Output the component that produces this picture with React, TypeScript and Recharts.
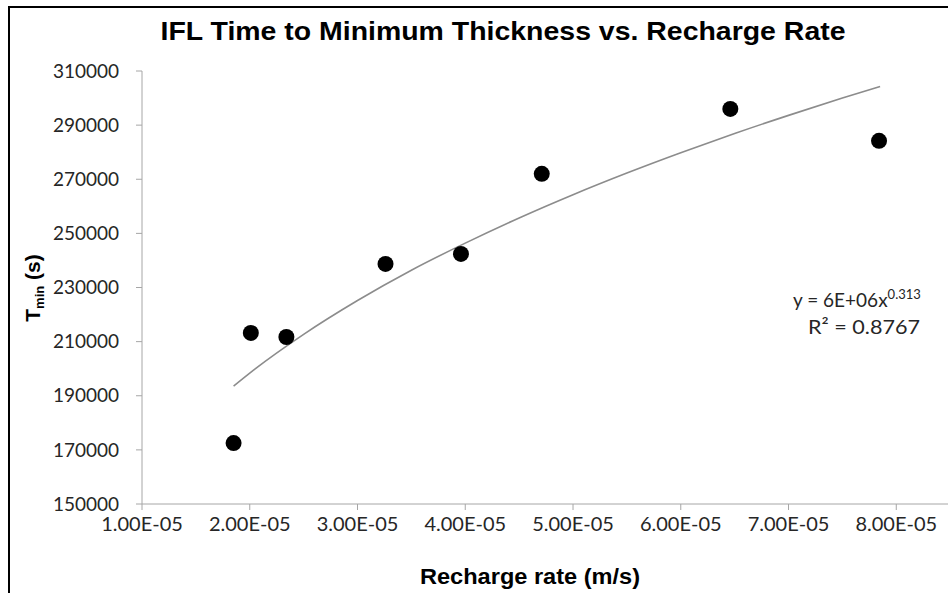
import { ComposedChart, Scatter, Line, XAxis, YAxis } from 'recharts';

// measured points (recharge rate m/s, time to min thickness s)
const rechargeRate = [1.85e-5, 2.01e-5, 2.34e-5, 3.26e-5, 3.96e-5, 4.71e-5, 6.46e-5, 7.84e-5];
const tMin = [172500, 213200, 211700, 238700, 242400, 272000, 296000, 284200];

// power trendline
const trendX = [1.85e-5, 2e-5, 2.5e-5, 3e-5, 3.5e-5, 4e-5, 4.5e-5, 5e-5, 5.5e-5, 6e-5, 6.5e-5, 7e-5, 7.5e-5, 7.85e-5];
const trendY = [193600, 198400, 212700, 225200, 236400, 246400, 255700, 264300, 272300, 279800, 286900, 293600, 300000, 304300];

const xTicks = [1e-5, 2e-5, 3e-5, 4e-5, 5e-5, 6e-5, 7e-5, 8e-5];
const yTicks = [150000, 170000, 190000, 210000, 230000, 250000, 270000, 290000, 310000];

const points = rechargeRate.map((x, i) => ({ x, y: tMin[i] }));
const trend = trendX.map((x, i) => ({ x, y: trendY[i] }));

const AXIS_GRAY = '#a6a6a6';
const TEXT = '#262626';
const TICK_FONT = 'Lato, "Open Sans", sans-serif';
const BOLD_FONT = '"Liberation Sans", Arial, sans-serif';

function fmtExp(v: number): string {
  const [m, e] = v.toExponential(2).split('e');
  const n = parseInt(e, 10);
  return `${m}E${n < 0 ? '-' : '+'}${String(Math.abs(n)).padStart(2, '0')}`;
}

const Dot = (props: any) => <circle cx={props.cx} cy={props.cy} r={8} fill="#000" />;

export default function App() {
  return (
    <div style={{ position: 'absolute', left: 0, top: 0, width: 948, height: 593, background: '#fff', overflow: 'hidden' }}>
      <ComposedChart width={948} height={593} margin={{ top: 71, right: 0, bottom: 0, left: 0 }}>
        <XAxis
          type="number"
          dataKey="x"
          domain={[1e-5, 8.48e-5]}
          ticks={xTicks}
          tickFormatter={fmtExp}
          height={89}
          tickSize={6}
          tickMargin={7}
          stroke={AXIS_GRAY}
          tick={{ fill: TEXT, fontSize: 20, fontFamily: TICK_FONT }}
          allowDataOverflow
        />
        <YAxis
          type="number"
          dataKey="y"
          domain={[150000, 310000]}
          ticks={yTicks}
          width={142}
          tickSize={6}
          tickMargin={17}
          stroke={AXIS_GRAY}
          tick={{ fill: TEXT, fontSize: 19, fontFamily: TICK_FONT }}
          allowDataOverflow
        />
        <Line data={trend} dataKey="y" type="monotone" stroke="#8c8c8c" strokeWidth={1.6} dot={false} isAnimationActive={false} />
        <Scatter data={points} dataKey="y" fill="#000" shape={Dot} isAnimationActive={false} />
      </ComposedChart>
      <svg width={948} height={593} style={{ position: 'absolute', left: 0, top: 0, pointerEvents: 'none' }}>
        <line x1={8} y1={7} x2={948} y2={7} stroke="#000" strokeWidth={2} />
        <line x1={9} y1={6} x2={9} y2={593} stroke="#000" strokeWidth={2} />
        <text x={503} y={40} textAnchor="middle" fontFamily={BOLD_FONT} fontWeight="bold" fontSize={26} fill="#000" textLength={685} lengthAdjust="spacingAndGlyphs">
          IFL Time to Minimum Thickness vs. Recharge Rate
        </text>
        <text x={530} y={584} textAnchor="middle" fontFamily={BOLD_FONT} fontWeight="bold" fontSize={22} fill="#000" textLength={220} lengthAdjust="spacingAndGlyphs">
          Recharge rate (m/s)
        </text>
        <text transform="translate(40,288) rotate(-90)" textAnchor="middle" fontFamily={BOLD_FONT} fontWeight="bold" fontSize={21} fill="#000">
          T<tspan fontSize={13} dy={4}>min</tspan>
          <tspan dy={-4}> (s)</tspan>
        </text>
        <text x={793} y={307} fontFamily={TICK_FONT} fontSize={19} fill={TEXT}>
          y = 6E+06x<tspan fontSize={13} dy={-8}>0.313</tspan>
        </text>
        <text x={808} y={334} fontFamily={TICK_FONT} fontSize={20} fill={TEXT} textLength={112} lengthAdjust="spacingAndGlyphs">
          R² = 0.8767
        </text>
      </svg>
    </div>
  );
}
